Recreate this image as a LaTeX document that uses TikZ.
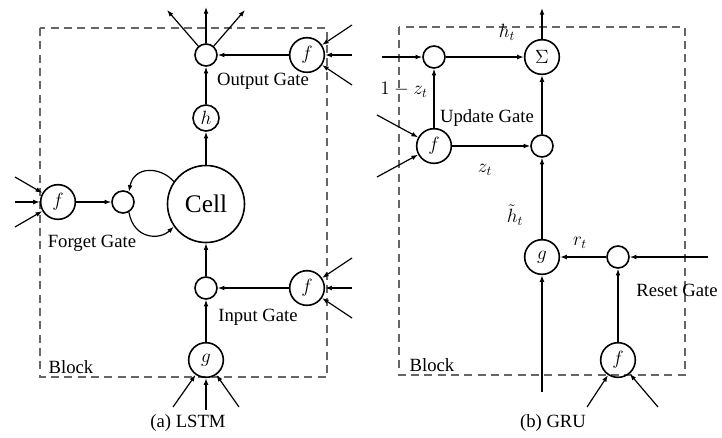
\documentclass[tikz,border=0pt]{standalone}
\usepackage{fontspec}
\setmainfont{Liberation Serif}
\usetikzlibrary{arrows.meta}

\begin{document}
\begin{tikzpicture}[x=0.75pt,y=-0.75pt,
  gate/.style={draw,circle,line width=1.2pt,minimum size=26pt,inner sep=0pt,font=\fontsize{14}{16}\selectfont},
  prod/.style={draw,circle,line width=1.2pt,minimum size=16.5pt,inner sep=0pt},
  arr/.style={line width=0.9pt,-{Latex[length=5pt,width=3.6pt]}},
  blockbox/.style={gray!80!black,line width=0.8pt,dash pattern=on 6pt off 4pt},
  lbl/.style={font=\fontsize{14}{16}\selectfont}]
\useasboundingbox (0,0) rectangle (722,437);
% (a) LSTM
\draw[blockbox] (40,28) rectangle (327,377);
\node[prod] (om) at (206,55) {};
\node[gate] (fo) at (307,55) {$f$};
\node[gate,minimum size=19.5pt] (h) at (206,118) {$h$};
\node[gate,minimum size=57.75pt,font=\fontsize{19}{22}\selectfont] (cell) at (206,204) {Cell};
\node[gate] (ff) at (58,202) {$f$};
\node[prod] (fm) at (123,202) {};
\node[prod] (im) at (206,288) {};
\node[gate] (fi) at (307,288) {$f$};
\node[gate] (g) at (206,360) {$g$};
\draw[arr] (fo) -- (om);
\draw[arr] (h) -- (om);
\draw[arr] (cell) -- (h);
\draw[arr] (ff) -- (fm);
\draw[arr] (fi) -- (im);
\draw[arr] (g) -- (im);
\draw[arr] (im) -- (cell);
\draw[arr] (cell.145) .. controls (160,166) and (134,166) .. (fm.60);
\draw[arr] (fm.-60) .. controls (134,240) and (160,240) .. (cell.-145);
\foreach \x/\y [count=\i] in {167/10,206/7,245/10} {\coordinate (out\i) at (\x,\y); \draw[arr] (om) -- (out\i);}
\foreach \y [count=\i] in {25,55,85} {\coordinate (ino\i) at (352,\y); \draw[arr] (ino\i) -- (fo);}
\foreach \y [count=\i] in {177,202,227} {\coordinate (inf\i) at (15,\y); \draw[arr] (inf\i) -- (ff);}
\foreach \y [count=\i] in {258,288,318} {\coordinate (ini\i) at (352,\y); \draw[arr] (ini\i) -- (fi);}
\foreach \x/\y [count=\i] in {173/407,206/410,239/407} {\coordinate (ing\i) at (\x,\y); \draw[arr] (ing\i) -- (g);}
\node[lbl] (ogl) at (263,81) {Output Gate};
\node[lbl] (fgl) at (92,243) {Forget Gate};
\node[lbl] (igl) at (258,317) {Input Gate};
\node[lbl,anchor=west] (blk1) at (44,367) {Block};
\node[lbl] (capa) at (188,423) {(a) LSTM};
% (b) GRU
\draw[blockbox] (399,27) rectangle (685,375);
\node[gate] (sum) at (542,57) {$\Sigma$};
\node[prod] (um) at (434,57) {};
\node[gate] (fu) at (434,146) {$f$};
\node[prod] (zm) at (542,146) {};
\node[gate] (gg) at (542,257) {$g$};
\node[prod] (rm) at (618,257) {};
\node[gate] (fr) at (618,360) {$f$};
\coordinate (hout) at (542,8);
\coordinate (hin) at (382,57);
\coordinate (xin) at (708,257);
\coordinate (xg) at (542,392);
\draw[arr] (sum) -- (hout);
\draw[arr] (hin) -- (um);
\draw[arr] (um) -- (sum);
\draw[arr] (fu) -- (um);
\draw[arr] (fu) -- (zm);
\draw[arr] (zm) -- (sum);
\draw[arr] (gg) -- (zm);
\draw[arr] (xin) -- (rm);
\draw[arr] (rm) -- (gg);
\draw[arr] (fr) -- (rm);
\draw[arr] (xg) -- (gg);
\foreach \y [count=\i] in {115,177} {\coordinate (inu\i) at (377,\y); \draw[arr] (inu\i) -- (fu);}
\foreach \x [count=\i] in {587,658} {\coordinate (inr\i) at (\x,407); \draw[arr] (inr\i) -- (fr);}
\node[lbl] (ht) at (507,32) {$h_t$};
\node[lbl] (omz) at (404,90) {$1-z_t$};
\node[lbl] (ugl) at (487,118) {Update Gate};
\node[lbl] (zt) at (485,170) {$z_t$};
\node[lbl] (htil) at (515,215) {$\tilde{h}_t$};
\node[lbl] (rt) at (580,243) {$r_t$};
\node[lbl] (rgl) at (677,290) {Reset Gate};
\node[lbl,anchor=west] (blk2) at (405,365) {Block};
\node[lbl] (capb) at (553,423) {(b) GRU};
\end{tikzpicture}
\end{document}
